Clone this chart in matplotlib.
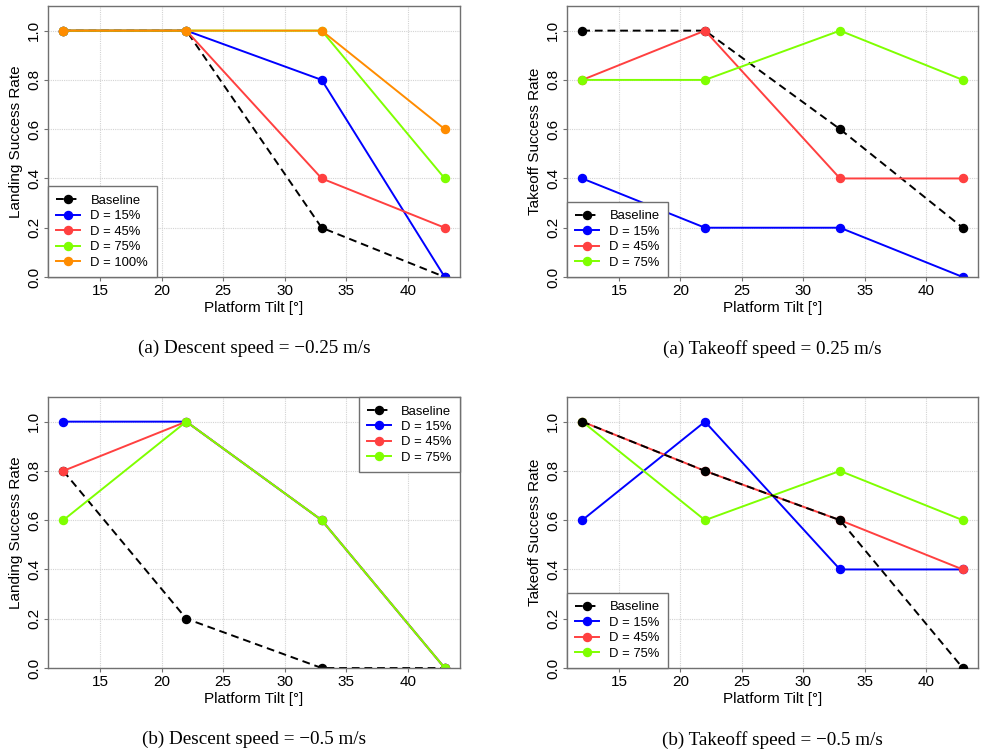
import matplotlib
matplotlib.use("Agg")
import matplotlib.pyplot as plt

plt.rcParams["font.family"] = ["Liberation Sans", "DejaVu Sans"]

# tilt angles tested
tilts = [12, 22, 33, 43]

# (a) descent speed -0.25 m/s, landing
land025_baseline = [1.0, 1.0, 0.2, 0.0]
land025_d15 = [1.0, 1.0, 0.8, 0.0]
land025_d45 = [1.0, 1.0, 0.4, 0.2]
land025_d75 = [1.0, 1.0, 1.0, 0.4]
land025_d100 = [1.0, 1.0, 1.0, 0.6]

# (a) takeoff speed 0.25 m/s
take025_baseline = [1.0, 1.0, 0.6, 0.2]
take025_d15 = [0.4, 0.2, 0.2, 0.0]
take025_d45 = [0.8, 1.0, 0.4, 0.4]
take025_d75 = [0.8, 0.8, 1.0, 0.8]

# (b) descent speed -0.5 m/s, landing
land05_baseline = [0.8, 0.2, 0.0, 0.0]
land05_d15 = [1.0, 1.0, 0.6, 0.0]
land05_d45 = [0.8, 1.0, 0.6, 0.0]
land05_d75 = [0.6, 1.0, 0.6, 0.0]

# (b) takeoff speed -0.5 m/s
take05_baseline = [1.0, 0.8, 0.6, 0.0]
take05_d15 = [0.6, 1.0, 0.4, 0.4]
take05_d45 = [1.0, 0.8, 0.6, 0.4]
take05_d75 = [1.0, 0.6, 0.8, 0.6]

series_labels = ["Baseline", "D = 15%", "D = 45%", "D = 75%", "D = 100%"]
series_colors = ["black", "#0000FF", "#FF4040", "#7FFF00", "#FF8C00"]

W, H = 985, 753
fig = plt.figure(figsize=(W / 100, H / 100), dpi=100)


def px_axes(left, top, right, bottom):
    return fig.add_axes([left / W, 1 - bottom / H, (right - left) / W, (bottom - top) / H])


def draw_panel(ax, data, ylabel, caption, legend_loc, baseline_on_top=False):
    for i, vals in enumerate(data):
        if i == 0:
            ax.plot(tilts, vals, color="black", ls=(0, (4, 2.5)), lw=1.4, marker="o", ms=5.8,
                    label=series_labels[0], zorder=6 if baseline_on_top else 2)
        else:
            ax.plot(tilts, vals, color=series_colors[i], lw=1.4, marker="o", ms=5.8,
                    label=series_labels[i], zorder=2 + i * 0.1)
    ax.set_xlim(10.76, 44.24)
    ax.set_ylim(0, 1.1)
    ax.set_xticks([15, 20, 25, 30, 35, 40])
    ax.set_yticks([0.0, 0.2, 0.4, 0.6, 0.8, 1.0])
    ax.set_yticklabels(["0.0", "0.2", "0.4", "0.6", "0.8", "1.0"], rotation=90, va="center")
    ax.grid(True, color="#D3D3D3", ls=(0, (1, 1)), lw=0.8)
    ax.set_axisbelow(True)
    for s in ax.spines.values():
        s.set_color("#707070")
        s.set_linewidth(1.0)
    ax.tick_params(direction="out", length=3, width=0.8, color="#707070", labelsize=11, pad=2)
    ax.set_xlabel("Platform Tilt [°]", fontsize=11, labelpad=2)
    ax.set_ylabel(ylabel, fontsize=11, labelpad=3)
    leg = ax.legend(loc=legend_loc, borderaxespad=0, fancybox=False, framealpha=1,
                    edgecolor="#707070", fontsize=9.4, handlelength=1.8, handletextpad=0.8,
                    labelspacing=0.25, borderpad=0.65)
    leg.get_frame().set_linewidth(1.0)
    leg.set_zorder(10)
    ax.text(0.5, -0.265, caption, transform=ax.transAxes, ha="center", va="center",
            fontsize=13.8, family=["Liberation Serif", "DejaVu Serif"])


ax1 = px_axes(48, 6, 460, 277)
draw_panel(ax1, [land025_baseline, land025_d15, land025_d45, land025_d75, land025_d100],
           "Landing Success Rate", "(a) Descent speed = \u22120.25 m/s", "lower left")

ax2 = px_axes(567, 6, 978, 277)
draw_panel(ax2, [take025_baseline, take025_d15, take025_d45, take025_d75],
           "Takeoff Success Rate", "(a) Takeoff speed = 0.25 m/s", "lower left")

ax3 = px_axes(48, 397, 460, 668)
draw_panel(ax3, [land05_baseline, land05_d15, land05_d45, land05_d75],
           "Landing Success Rate", "(b) Descent speed = \u22120.5 m/s", "upper right")

ax4 = px_axes(567, 397, 978, 668)
draw_panel(ax4, [take05_baseline, take05_d15, take05_d45, take05_d75],
           "Takeoff Success Rate", "(b) Takeoff speed = \u22120.5 m/s", "lower left",
           baseline_on_top=True)

fig.savefig("out.png", dpi=100)
